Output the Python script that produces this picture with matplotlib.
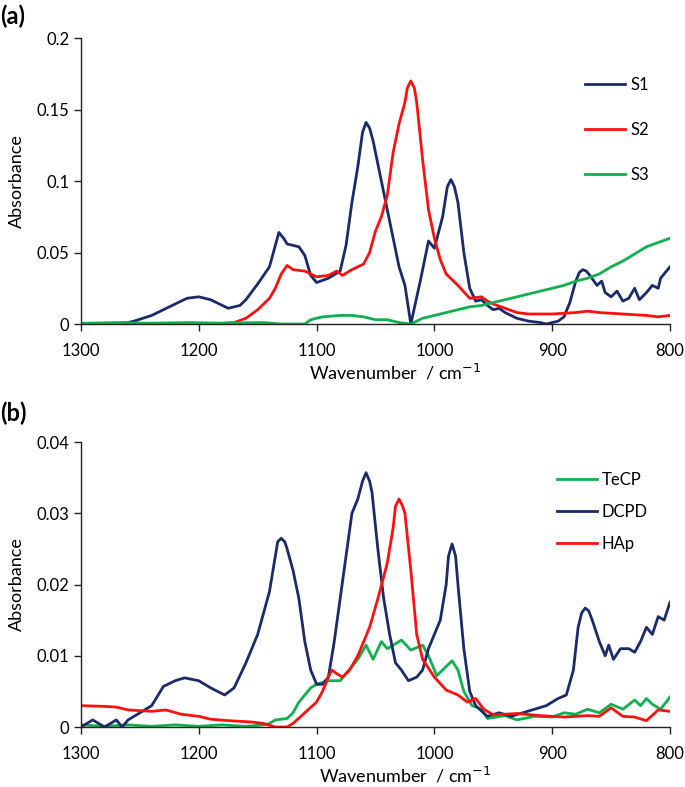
import matplotlib
matplotlib.use("Agg")
import matplotlib.pyplot as plt

# ---- panel (a) data ----
s1_wn = [1300, 1280, 1260, 1255, 1240, 1230, 1220, 1210, 1200, 1190, 1180, 1175, 1165, 1160,
         1150, 1140, 1135, 1132, 1128, 1125, 1115, 1110, 1105, 1100, 1090, 1080, 1075, 1070, 1065,
         1061, 1058, 1055, 1052, 1045, 1040, 1030, 1025, 1020, 1012, 1005, 1000, 993, 989, 986,
         983, 980, 975, 970, 965, 960, 955, 950, 945, 940, 930, 920, 910, 905, 900, 895, 890,
         885, 880, 877, 874, 871, 868, 862, 858, 855, 850, 845, 840, 835, 830, 826, 820, 815,
         810, 808, 800]
s1_ab = [0.0, 0.0, 0.001, 0.002, 0.006, 0.010, 0.014, 0.018, 0.019, 0.017, 0.013, 0.011, 0.013, 0.017,
         0.028, 0.040, 0.055, 0.064, 0.060, 0.056, 0.054, 0.048, 0.034, 0.029, 0.032, 0.037, 0.055, 0.085, 0.110,
         0.134, 0.141, 0.137, 0.128, 0.100, 0.080, 0.040, 0.027, 0.0, 0.030, 0.058, 0.053, 0.075, 0.096, 0.101,
         0.096, 0.085, 0.050, 0.025, 0.016, 0.017, 0.013, 0.010, 0.011, 0.008, 0.004, 0.002, 0.001, 0.0, 0.001, 0.002, 0.005,
         0.015, 0.030, 0.036, 0.038, 0.037, 0.034, 0.027, 0.030, 0.022, 0.019, 0.023, 0.016, 0.018, 0.025, 0.017, 0.022, 0.027,
         0.025, 0.032, 0.040]

s2_wn = [1300, 1240, 1180, 1170, 1160, 1150, 1140, 1135, 1130, 1125, 1120, 1110, 1100, 1090,
         1083, 1078, 1070, 1060, 1055, 1050, 1045, 1040, 1035, 1030, 1025, 1023, 1020, 1017, 1015,
         1010, 1005, 1000, 995, 990, 980, 970, 960, 955, 950, 940, 930, 920, 900, 880, 870, 860,
         840, 820, 810, 800]
s2_ab = [0.0, 0.0005, 0.0005, 0.001, 0.004, 0.010, 0.018, 0.025, 0.035, 0.041, 0.038, 0.037, 0.033, 0.034,
         0.037, 0.034, 0.038, 0.042, 0.050, 0.065, 0.075, 0.090, 0.120, 0.140, 0.155, 0.165, 0.170, 0.165, 0.155,
         0.115, 0.080, 0.060, 0.045, 0.035, 0.027, 0.018, 0.019, 0.016, 0.014, 0.011, 0.008, 0.007, 0.007, 0.008, 0.009, 0.008,
         0.007, 0.006, 0.005, 0.006]

s3_wn = [1300, 1270, 1240, 1210, 1180, 1150, 1145, 1130, 1110, 1105, 1095, 1080, 1070, 1060,
         1050, 1040, 1030, 1020, 1010, 1000, 990, 980, 970, 960, 950, 940, 930, 920, 910, 900,
         890, 880, 870, 860, 850, 840, 830, 820, 810, 800]
s3_ab = [0.0005, 0.001, 0.0005, 0.001, 0.0005, 0.001, 0.001, 0.0, 0.0, 0.003, 0.005, 0.006, 0.006, 0.005,
         0.003, 0.003, 0.001, 0.0, 0.004, 0.006, 0.008, 0.010, 0.012, 0.013, 0.015, 0.017, 0.019, 0.021, 0.023, 0.025,
         0.027, 0.030, 0.032, 0.035, 0.040, 0.044, 0.049, 0.054, 0.057, 0.060]

# ---- panel (b) data ----
dcpd_wn = [1300, 1290, 1280, 1270, 1265, 1260, 1250, 1240, 1230, 1220, 1212, 1200, 1190, 1178,
           1170, 1160, 1150, 1140, 1135, 1133, 1130, 1127, 1125, 1120, 1115, 1110, 1105, 1100, 1095,
           1090, 1085, 1080, 1075, 1070, 1065, 1061, 1058, 1055, 1053, 1048, 1043, 1038, 1033, 1028,
           1022, 1015, 1010, 1005, 1000, 995, 990, 988, 985, 982, 980, 975, 970, 965, 955, 945, 935,
           925, 915, 905, 895, 888, 882, 878, 875, 872, 869, 866, 860, 855, 852, 848, 842, 835, 830,
           825, 820, 815, 810, 805, 800]
dcpd_ab = [0.0, 0.001, 0.0, 0.001, 0.0, 0.001, 0.002, 0.003, 0.0057, 0.0065, 0.0069, 0.0065, 0.0055, 0.0045,
           0.0055, 0.009, 0.013, 0.019, 0.024, 0.026, 0.0265, 0.026, 0.025, 0.022, 0.018, 0.012, 0.008, 0.006, 0.006,
           0.007, 0.012, 0.018, 0.024, 0.030, 0.032, 0.0345, 0.0357, 0.0345, 0.033, 0.025, 0.018, 0.013, 0.009, 0.008,
           0.0065, 0.007, 0.008, 0.011, 0.013, 0.015, 0.020, 0.024, 0.0257, 0.024, 0.020, 0.011, 0.005, 0.003, 0.0015, 0.002, 0.0015,
           0.002, 0.0025, 0.003, 0.004, 0.0045, 0.008, 0.014, 0.016, 0.0167, 0.0163, 0.015, 0.012, 0.010, 0.0115, 0.0095, 0.011, 0.011, 0.0105,
           0.012, 0.014, 0.013, 0.0155, 0.015, 0.0175]

tecp_wn = [1300, 1280, 1260, 1240, 1220, 1200, 1180, 1160, 1145, 1140, 1135, 1125, 1120, 1115,
           1105, 1100, 1090, 1080, 1075, 1065, 1058, 1052, 1045, 1040, 1035, 1028, 1020, 1010,
           1005, 998, 990, 985, 980, 975, 968, 960, 955, 940, 930, 915, 900, 890, 880, 870, 860,
           850, 840, 830, 825, 820, 815, 808, 800]
tecp_ab = [0.0003, 0.0001, 0.0003, 0.0001, 0.0003, 0.0001, 0.0003, 0.0001, 0.0003, 0.0005, 0.001, 0.0012, 0.002, 0.0035,
           0.0055, 0.006, 0.0065, 0.0065, 0.0075, 0.0095, 0.0115, 0.0095, 0.012, 0.011, 0.0115, 0.0122, 0.0108, 0.0115,
           0.010, 0.0072, 0.0085, 0.0093, 0.008, 0.005, 0.003, 0.0025, 0.0012, 0.0016, 0.001, 0.0015, 0.0014, 0.002, 0.0018, 0.0025, 0.002,
           0.0032, 0.0025, 0.0038, 0.003, 0.004, 0.0032, 0.0025, 0.0042]

hap_wn = [1300, 1280, 1270, 1260, 1240, 1228, 1215, 1200, 1190, 1175, 1155, 1145, 1135, 1125,
          1120, 1110, 1100, 1095, 1090, 1087, 1083, 1078, 1072, 1065, 1055, 1048, 1040, 1035,
          1033, 1030, 1027, 1025, 1020, 1015, 1010, 1000, 990, 980, 972, 965, 958, 950, 930, 910,
          890, 870, 860, 850, 840, 830, 820, 810, 800]
hap_ab = [0.003, 0.0029, 0.0028, 0.0024, 0.0022, 0.0024, 0.0018, 0.0015, 0.0011, 0.0009, 0.0007, 0.0005, 0.0, 0.0,
          0.0005, 0.002, 0.0035, 0.005, 0.007, 0.008, 0.0075, 0.007, 0.008, 0.010, 0.014, 0.018, 0.023, 0.028,
          0.031, 0.032, 0.031, 0.030, 0.022, 0.013, 0.0095, 0.007, 0.0052, 0.0045, 0.0035, 0.004, 0.0025, 0.0017, 0.0019, 0.0016,
          0.0014, 0.0016, 0.0015, 0.0027, 0.0015, 0.0014, 0.0009, 0.0024, 0.0022]

yticks_a = [0, 0.05, 0.1, 0.15, 0.2]
ytick_labels_a = ["0", "0.05", "0.1", "0.15", "0.2"]
yticks_b = [0, 0.01, 0.02, 0.03, 0.04]
ytick_labels_b = ["0", "0.01", "0.02", "0.03", "0.04"]
xticks = [1300, 1200, 1100, 1000, 900, 800]

NAVY = "#1b2a6b"
RED = "#ff1010"
GREEN = "#10b050"

plt.rcParams['font.family'] = ['Lato', 'DejaVu Sans']
plt.rcParams['font.size'] = 12

fig = plt.figure(figsize=(6.85, 7.87), dpi=100)
ax_a = fig.add_axes([0.1182, 0.5883, 0.8599, 0.3634])
ax_b = fig.add_axes([0.1182, 0.0762, 0.8599, 0.3621])


def style_axes(ax, yticks, ylabels, xlab_x):
    ax.set_xlim(1300, 800)
    ax.set_ylim(yticks[0], yticks[-1])
    ax.set_xticks(xticks)
    ax.set_yticks(yticks)
    ax.set_yticklabels(ylabels)
    for s in ["top", "right"]:
        ax.spines[s].set_visible(False)
    for s in ["left", "bottom"]:
        ax.spines[s].set_color("#222222")
        ax.spines[s].set_linewidth(1.0)
    ax.tick_params(direction="out", length=5, width=1.0, color="#222222", labelsize=12)
    ax.tick_params(axis="x", pad=9)
    ax.set_ylabel("Absorbance", fontsize=13, labelpad=8)
    ax.set_xlabel("Wavenumber  / cm$^{-1}$", fontsize=13, va="center")
    ax.xaxis.set_label_coords(xlab_x, -0.17)


lw = 2.0
ax_a.plot(s1_wn, s1_ab, color=NAVY, lw=lw, label="S1")
ax_a.plot(s2_wn, s2_ab, color=RED, lw=lw, label="S2")
ax_a.plot(s3_wn, s3_ab, color=GREEN, lw=lw, label="S3")
style_axes(ax_a, yticks_a, ytick_labels_a, 0.533)
ax_a.legend(loc="center left", bbox_to_anchor=(0.856, 0.678), frameon=False, fontsize=12,
            handlelength=2.4, handletextpad=0.3, labelspacing=1.75, borderpad=0, borderaxespad=0)

ax_b.plot(tecp_wn, tecp_ab, color=GREEN, lw=lw, label="TeCP")
ax_b.plot(dcpd_wn, dcpd_ab, color=NAVY, lw=lw, label="DCPD")
ax_b.plot(hap_wn, hap_ab, color=RED, lw=lw, label="HAp")
style_axes(ax_b, yticks_b, ytick_labels_b, 0.55)
ax_b.legend(loc="center left", bbox_to_anchor=(0.808, 0.754), frameon=False, fontsize=12,
            handlelength=2.4, handletextpad=0.3, labelspacing=0.95, borderpad=0, borderaxespad=0)

fig.text(0.0, 1 - 16 / 787, "(a)", fontsize=17, fontweight="bold", va="center", ha="left")
fig.text(0.0, 1 - 413 / 787, "(b)", fontsize=17, fontweight="bold", va="center", ha="left")

fig.savefig("out.png", dpi=100)
